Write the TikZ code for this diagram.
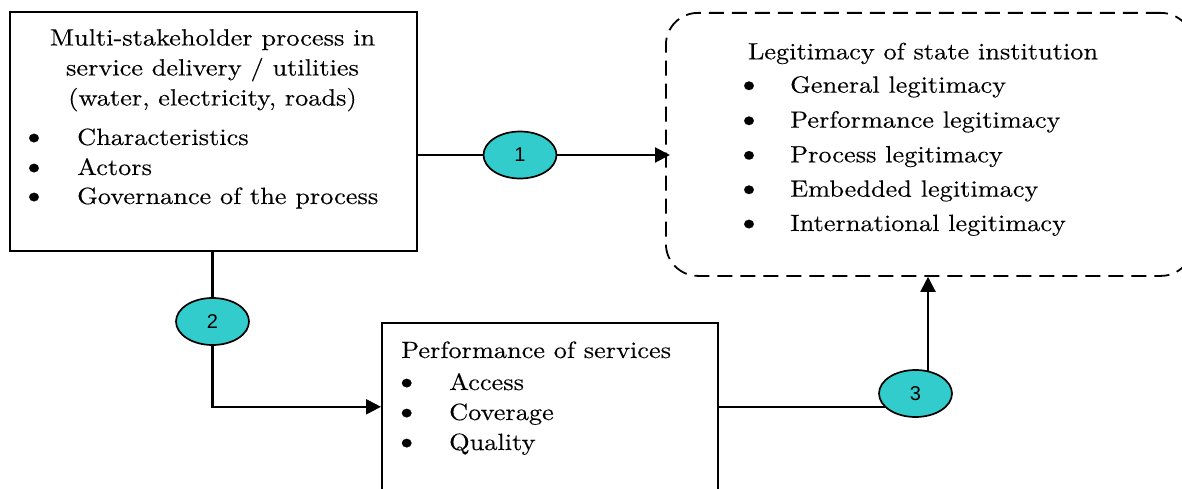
\documentclass[tikz,border=0pt]{standalone}
\usepackage{fontspec}
\setmainfont{lmroman10-regular.otf}[FakeStretch=1.12,FakeBold=0.25]
\newfontfamily\numfont{Liberation Sans}
\usetikzlibrary{shapes.geometric,arrows.meta,backgrounds}
\definecolor{turq}{RGB}{51,204,204}
\begin{document}
\begin{tikzpicture}[x=1pt,y=-1pt,
  box/.style={draw, line width=2.2pt, inner sep=0pt, anchor=north west},
  dbox/.style={draw, line width=1.8pt, dash pattern=on 15pt off 8pt, rounded corners=32pt, inner sep=0pt, anchor=north west},
  ell/.style={ellipse, draw, line width=1.7pt, fill=turq, minimum width=73pt, minimum height=47pt, inner sep=0pt, font=\numfont\fontsize{20}{20}\selectfont},
  txt/.style={inner sep=0pt, anchor=base, font=\fontsize{23.5}{28}\selectfont},
  bul/.style={txt, font=\fontsize{30}{30}\selectfont},
  itm/.style={txt, anchor=base west},
  conn/.style={line width=2.1pt},
  arr/.style={conn, -{Triangle[length=15pt,width=15pt]}}]
\useasboundingbox (0,0) rectangle (1182,489);
% box A
\node[box, minimum width=407pt, minimum height=239pt] (A) at (9,11) {};
\node[txt] (a1) at (212.5,45.5) {Multi-stakeholder process in};
\node[txt] (a2) at (212.5,75.5) {service delivery / utilities};
\node[txt] (a3) at (212.5,105.5) {(water, electricity, roads)};
\node[bul] (ab1) at (34,145) {\textbullet};
\node[itm] (ai1) at (77,145) {Characteristics};
\node[bul] (ab2) at (34,175) {\textbullet};
\node[itm] (ai2) at (77,175) {Actors};
\node[bul] (ab3) at (34,204) {\textbullet};
\node[itm] (ai3) at (77,204) {Governance of the process};
% box L
\node[dbox, minimum width=527pt, minimum height=263pt] (L) at (665,12) {};
\node[txt] (l0) at (923,59.3) {Legitimacy of state institution};
\node[bul] (lb1) at (749,92.7) {\textbullet};
\node[itm] (li1) at (790,92.7) {General legitimacy};
\node[bul] (lb2) at (749,127.7) {\textbullet};
\node[itm] (li2) at (790,127.7) {Performance legitimacy};
\node[bul] (lb3) at (749,162.3) {\textbullet};
\node[itm] (li3) at (790,162.3) {Process legitimacy};
\node[bul] (lb4) at (749,196.7) {\textbullet};
\node[itm] (li4) at (790,196.7) {Embedded legitimacy};
\node[bul] (lb5) at (749,231) {\textbullet};
\node[itm] (li5) at (790,231) {International legitimacy};
% box P
\node[box, minimum width=336pt, minimum height=167.4pt] (P) at (381,322) {};
\node[itm] (p0) at (401,358) {Performance of services};
\node[bul] (pb1) at (406.7,390) {\textbullet};
\node[itm] (pi1) at (449,390) {Access};
\node[bul] (pb2) at (406.7,420) {\textbullet};
\node[itm] (pi2) at (449,420) {Coverage};
\node[bul] (pb3) at (406.7,450) {\textbullet};
\node[itm] (pi3) at (449,450) {Quality};
% ellipses
\node[ell] (e1) at (520,155) {1};
\node[ell] (e2) at (212.5,321.5) {2};
\node[ell] (e3) at (915.5,393.5) {3};
% connectors
\begin{scope}[on background layer]
\draw[conn] (A.east |- e1) -- (e1);
\draw[arr, shorten >=-5pt] (e1) -- (L.west |- e1);
\draw[conn] (A.south -| e2) -- (e2);
\draw[arr] (e2) |- (P.west);
\draw[conn] (P.east) -- (P.east -| e3);
\draw[arr] ([xshift=12.5pt]e3.center) -- ([xshift=12.5pt]e3.center |- L.south);
\end{scope}
\end{tikzpicture}
\end{document}
